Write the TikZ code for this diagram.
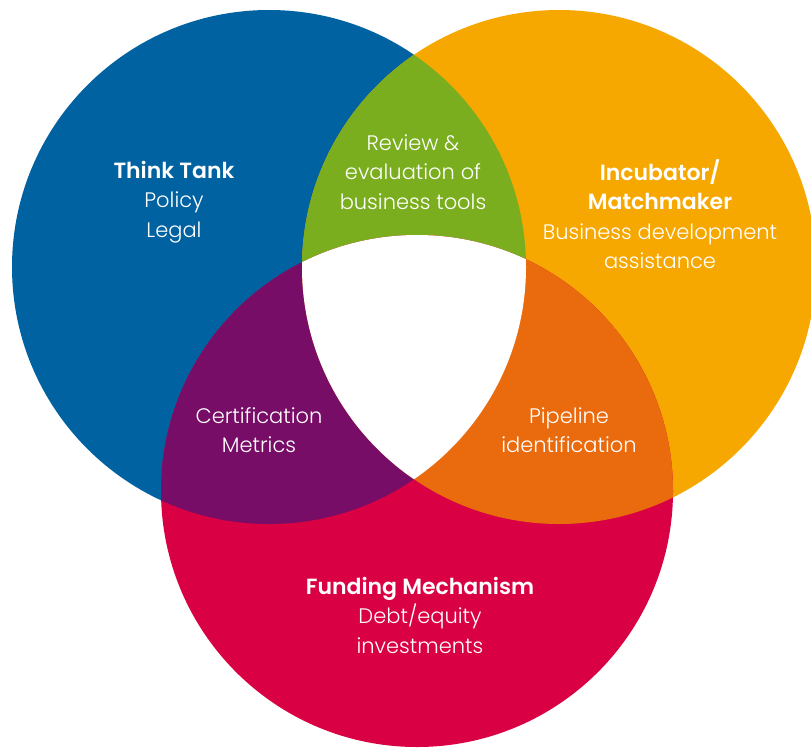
\documentclass[tikz,border=0pt]{standalone}
\usepackage{fontspec}
\setmainfont{Poppins}[UprightFont={* Light}, BoldFont={* SemiBold}]
\definecolor{cblue}{RGB}{0,98,160}
\definecolor{corange}{RGB}{246,168,0}
\definecolor{cred}{RGB}{218,0,68}
\definecolor{cgreen}{RGB}{123,174,31}
\definecolor{cpurple}{RGB}{119,13,103}
\definecolor{cdorange}{RGB}{234,107,13}
\newcommand{\hdtext}[1]{{\fontsize{22}{29}\selectfont\bfseries #1}}
\begin{document}
\begin{tikzpicture}[x=1pt,y=-1pt,
  lbl/.style={text=white,align=center,font=\fontsize{21}{29.5}\selectfont,inner sep=0pt}]
\useasboundingbox (0,0) rectangle (811,747);
\def\blue{(269,267) circle[radius=257]}
\def\orng{(559,267) circle[radius=257]}
\def\redc{(417,491) circle[radius=256]}
\fill[cblue] \blue;
\fill[corange] \orng;
\fill[cred] \redc;
\begin{scope}\clip \blue; \fill[cgreen] \orng; \end{scope}
\begin{scope}\clip \blue; \fill[cpurple] \redc; \end{scope}
\begin{scope}\clip \orng; \fill[cdorange] \redc; \end{scope}
\begin{scope}\clip \blue; \clip \orng; \fill[white] \redc; \end{scope}
\node[lbl] (tt) at (174,202) {\hdtext{Think Tank}\\Policy\\Legal};
\node[lbl] (rv) at (413,172) {Review \&\\evaluation of\\business tools};
\node[lbl] (inc) at (660,214) {\hdtext{Incubator/}\\\hdtext{Matchmaker}\\Business development\\assistance};
\node[lbl] (cert) at (259,430) {Certification\\Metrics};
\node[lbl] (pipe) at (569,430) {Pipeline\\identification};
\node[lbl] (fund) at (420,615) {\hdtext{Funding Mechanism}\\Debt/equity\\investments};
\end{tikzpicture}
\end{document}
